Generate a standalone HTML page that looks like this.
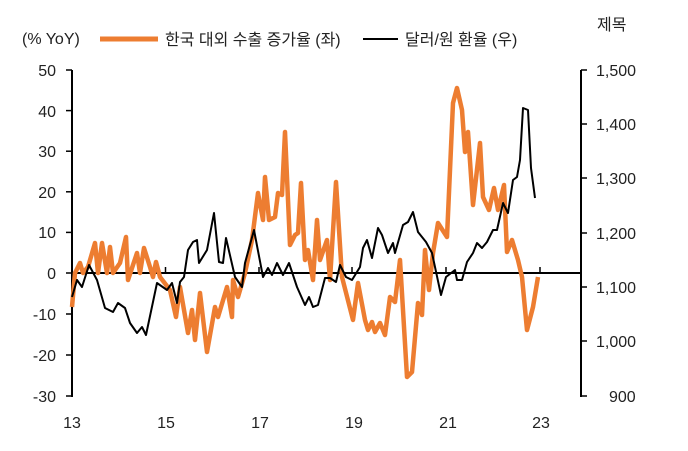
<!DOCTYPE html>
<html><head><meta charset="utf-8"><style>
body{margin:0;background:#fff;}
svg text{font-family:"Liberation Sans","Noto Sans CJK KR",sans-serif;font-size:16px;fill:#222;}
</style></head><body>
<svg width="688" height="446" viewBox="0 0 688 446">
<text x="22" y="44">(% YoY)</text>
<line x1="100" y1="39" x2="158" y2="39" stroke="#ED7D31" stroke-width="5"/>
<text x="165" y="45">한국 대외 수출 증가율 (좌)</text>
<line x1="363" y1="39" x2="398" y2="39" stroke="#000" stroke-width="2"/>
<text x="405" y="45">달러/원 환율 (우)</text>
<text x="597" y="30">제목</text>
<g stroke="#000" stroke-width="2">
<line x1="72" y1="70" x2="72" y2="397"/>
<line x1="581" y1="70" x2="581" y2="397"/>
<line x1="72" y1="273" x2="581" y2="273"/>
</g>
<g stroke="#000" stroke-width="1.5">
<line x1="66" y1="70" x2="72" y2="70"/><line x1="66" y1="110.6" x2="72" y2="110.6"/><line x1="66" y1="151.2" x2="72" y2="151.2"/><line x1="66" y1="191.8" x2="72" y2="191.8"/><line x1="66" y1="232.4" x2="72" y2="232.4"/><line x1="66" y1="273" x2="72" y2="273"/><line x1="66" y1="314" x2="72" y2="314"/><line x1="66" y1="355" x2="72" y2="355"/><line x1="66" y1="396" x2="72" y2="396"/>
<line x1="581" y1="70" x2="587" y2="70"/><line x1="581" y1="124" x2="587" y2="124"/><line x1="581" y1="178" x2="587" y2="178"/><line x1="581" y1="233" x2="587" y2="233"/><line x1="581" y1="287" x2="587" y2="287"/><line x1="581" y1="341" x2="587" y2="341"/><line x1="581" y1="396" x2="587" y2="396"/>
<line x1="165.5" y1="267" x2="165.5" y2="273"/><line x1="259" y1="267" x2="259" y2="273"/><line x1="352" y1="267" x2="352" y2="273"/><line x1="446" y1="267" x2="446" y2="273"/><line x1="540" y1="267" x2="540" y2="273"/>
</g>
<g text-anchor="end">
<text x="56" y="76">50</text><text x="56" y="117">40</text><text x="56" y="157">30</text><text x="56" y="198">20</text><text x="56" y="238">10</text><text x="56" y="279">0</text><text x="56" y="320">-10</text><text x="56" y="361">-20</text><text x="56" y="402">-30</text>
</g>
<g text-anchor="start">
<text x="596" y="76">1,500</text><text x="596" y="130">1,400</text><text x="596" y="184">1,300</text><text x="596" y="239">1,200</text><text x="596" y="293">1,100</text><text x="596" y="347">1,000</text><text x="609" y="402">900</text>
</g>
<g text-anchor="middle">
<text x="72" y="428">13</text><text x="166" y="428">15</text><text x="260" y="428">17</text><text x="354" y="428">19</text><text x="448" y="428">21</text><text x="541" y="428">23</text>
</g>
<polyline fill="none" stroke="#ED7D31" stroke-width="4.5" stroke-linejoin="round" points="72,307 75,273 80,263 83,273 88,267 95,243 98,273 102,243 107,273 110,247 113,273 120,263 126,237 128,280 137,253 140,273 144,248 150,267 153,277 156,262 160,277 170,290 176,317 180,287 188,333 192,310 195,340 200,293 207,352 215,307 218,317 227,287 232,317 233,280 238,297 245,273 252,240 258,193 263,220 265,177 269,220 275,217 278,193 282,195 285,132 290,245 295,235 298,233 301,183 305,260 308,250 313,280 317,220 320,260 327,240 330,280 336,182 342,277 353,320 358,283 365,320 368,330 372,322 375,332 380,323 385,335 390,297 395,302 400,260 407,377 412,372 418,303 422,315 425,250 429,290 433,253 438,223 447,237 453,103 457,88 462,110 465,152 468,132 473,205 480,143 483,197 489,210 494,188 498,210 504,185 507,252 512,240 518,260 522,277 527,330 533,307 538,277"/>
<polyline fill="none" stroke="#000" stroke-width="2" stroke-linejoin="round" points="72,297 77,280 82,287 89,265 97,280 105,308 113,312 118,303 125,308 130,323 137,333 142,327 146,335 157,283 167,290 172,283 177,303 180,282 184,277 188,250 193,242 197,240 199,263 207,250 214,213 219,262 223,263 226,238 235,277 242,287 245,263 254,230 263,277 268,268 272,275 277,263 283,275 289,263 297,287 305,305 309,297 313,307 318,305 325,278 330,278 336,282 340,265 346,277 352,280 360,267 363,248 367,240 372,258 378,228 382,235 388,253 393,243 395,253 403,225 408,222 413,212 418,232 426,242 432,253 441,295 446,277 455,270 457,280 462,280 467,262 473,253 477,243 482,248 487,242 493,230 497,230 503,203 508,213 513,180 517,177 520,160 523,108 528,110 531,168 535,198"/>
</svg>
</body></html>
